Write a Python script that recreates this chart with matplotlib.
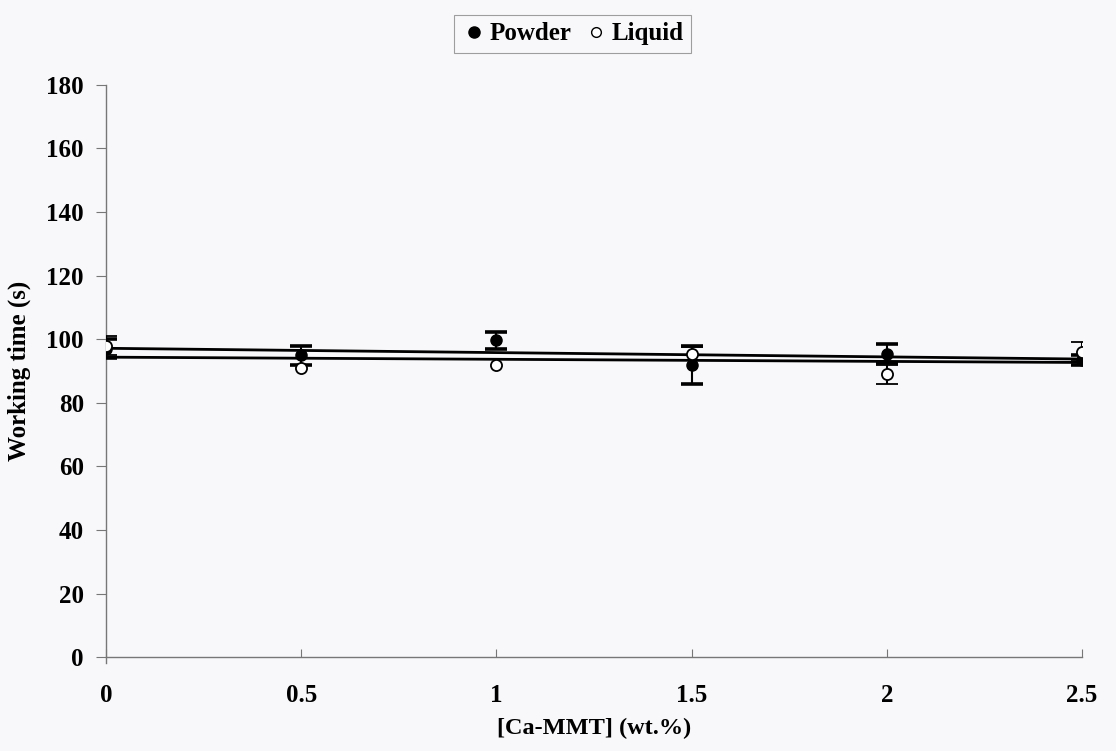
import numpy as np
import matplotlib
matplotlib.use("Agg")
import matplotlib.pyplot as plt
from matplotlib.lines import Line2D

plt.rcParams['font.family'] = ['Liberation Serif', 'DejaVu Serif']

ca_mmt = [0, 0.5, 1, 1.5, 2, 2.5]
powder = [97.0, 95.0, 99.7, 92.0, 95.5, 93.5]
powder_err = [3.0, 3.0, 2.7, 6.0, 3.0, 1.5]
liquid = [98.0, 90.8, 91.8, 95.5, 89.0, 96.0]
liquid_err = [3.0, np.nan, np.nan, 2.0, 3.0, 3.0]

x_ticks = [0, 0.5, 1, 1.5, 2, 2.5]
x_ticklabels = ['0', '0.5', '1', '1.5', '2', '2.5']
y_ticks = list(range(0, 181, 20))

bg = '#f8f8fa'
fig = plt.figure(figsize=(11.16, 7.51), dpi=100, facecolor=bg)
ax = fig.add_axes([0.095, 0.125, 0.8745, 0.762], facecolor=bg)

# linear trend line for each series
x = np.array(ca_mmt)
for vals in (powder, liquid):
    k, b = np.polyfit(x, vals, 1)
    xx = np.array([x.min(), x.max()])
    ax.plot(xx, k * xx + b, color='black', lw=2.0, zorder=2)

ax.errorbar(ca_mmt, powder, yerr=powder_err, fmt='o', color='black',
            mfc='black', mec='black', ms=8, elinewidth=1.5, capsize=8,
            capthick=2.6, zorder=3)
ax.errorbar(ca_mmt, liquid, yerr=liquid_err, fmt='o', color='black',
            mfc='white', mec='black', mew=1.3, ms=8, elinewidth=1.5,
            capsize=8, capthick=2.6, zorder=4)

ax.set_xlim(0, 2.5)
ax.set_ylim(0, 180)
ax.set_xticks(x_ticks)
ax.set_xticklabels(x_ticklabels)
ax.set_yticks(y_ticks)
for s in ('top', 'right'):
    ax.spines[s].set_visible(False)
for s in ('left', 'bottom'):
    ax.spines[s].set_color('#777777')
    ax.spines[s].set_linewidth(1.0)
ax.spines['left'].set_bounds(-2.0, 180)
ax.tick_params(axis='x', direction='in', length=6, color='#777777',
               labelsize=18, pad=19)
ax.tick_params(axis='y', direction='out', length=7, color='#777777',
               labelsize=18, pad=9)
for lab in ax.get_xticklabels() + ax.get_yticklabels():
    lab.set_fontweight('bold')

ax.set_xlabel('[Ca-MMT] (wt.%)', fontsize=17.5, fontweight='bold', labelpad=8)
ax.set_ylabel('Working time (s)', fontsize=18, fontweight='bold', labelpad=11)

handles = [
    Line2D([], [], marker='o', ls='none', color='black', mfc='black', ms=8),
    Line2D([], [], marker='o', ls='none', color='black', mfc='white', mew=1.0, ms=7),
]
leg = fig.legend(handles, ['Powder', 'Liquid'], loc='upper center',
                 bbox_to_anchor=(0.513, 0.997), ncol=2, frameon=True,
                 fancybox=False, edgecolor='#888888', facecolor=bg,
                 prop={'weight': 'bold', 'size': 18}, handletextpad=0.1,
                 columnspacing=0.5, handlelength=1.0, borderpad=0.3)
leg.get_frame().set_linewidth(0.8)

fig.savefig('out.png', dpi=100, facecolor=bg)
